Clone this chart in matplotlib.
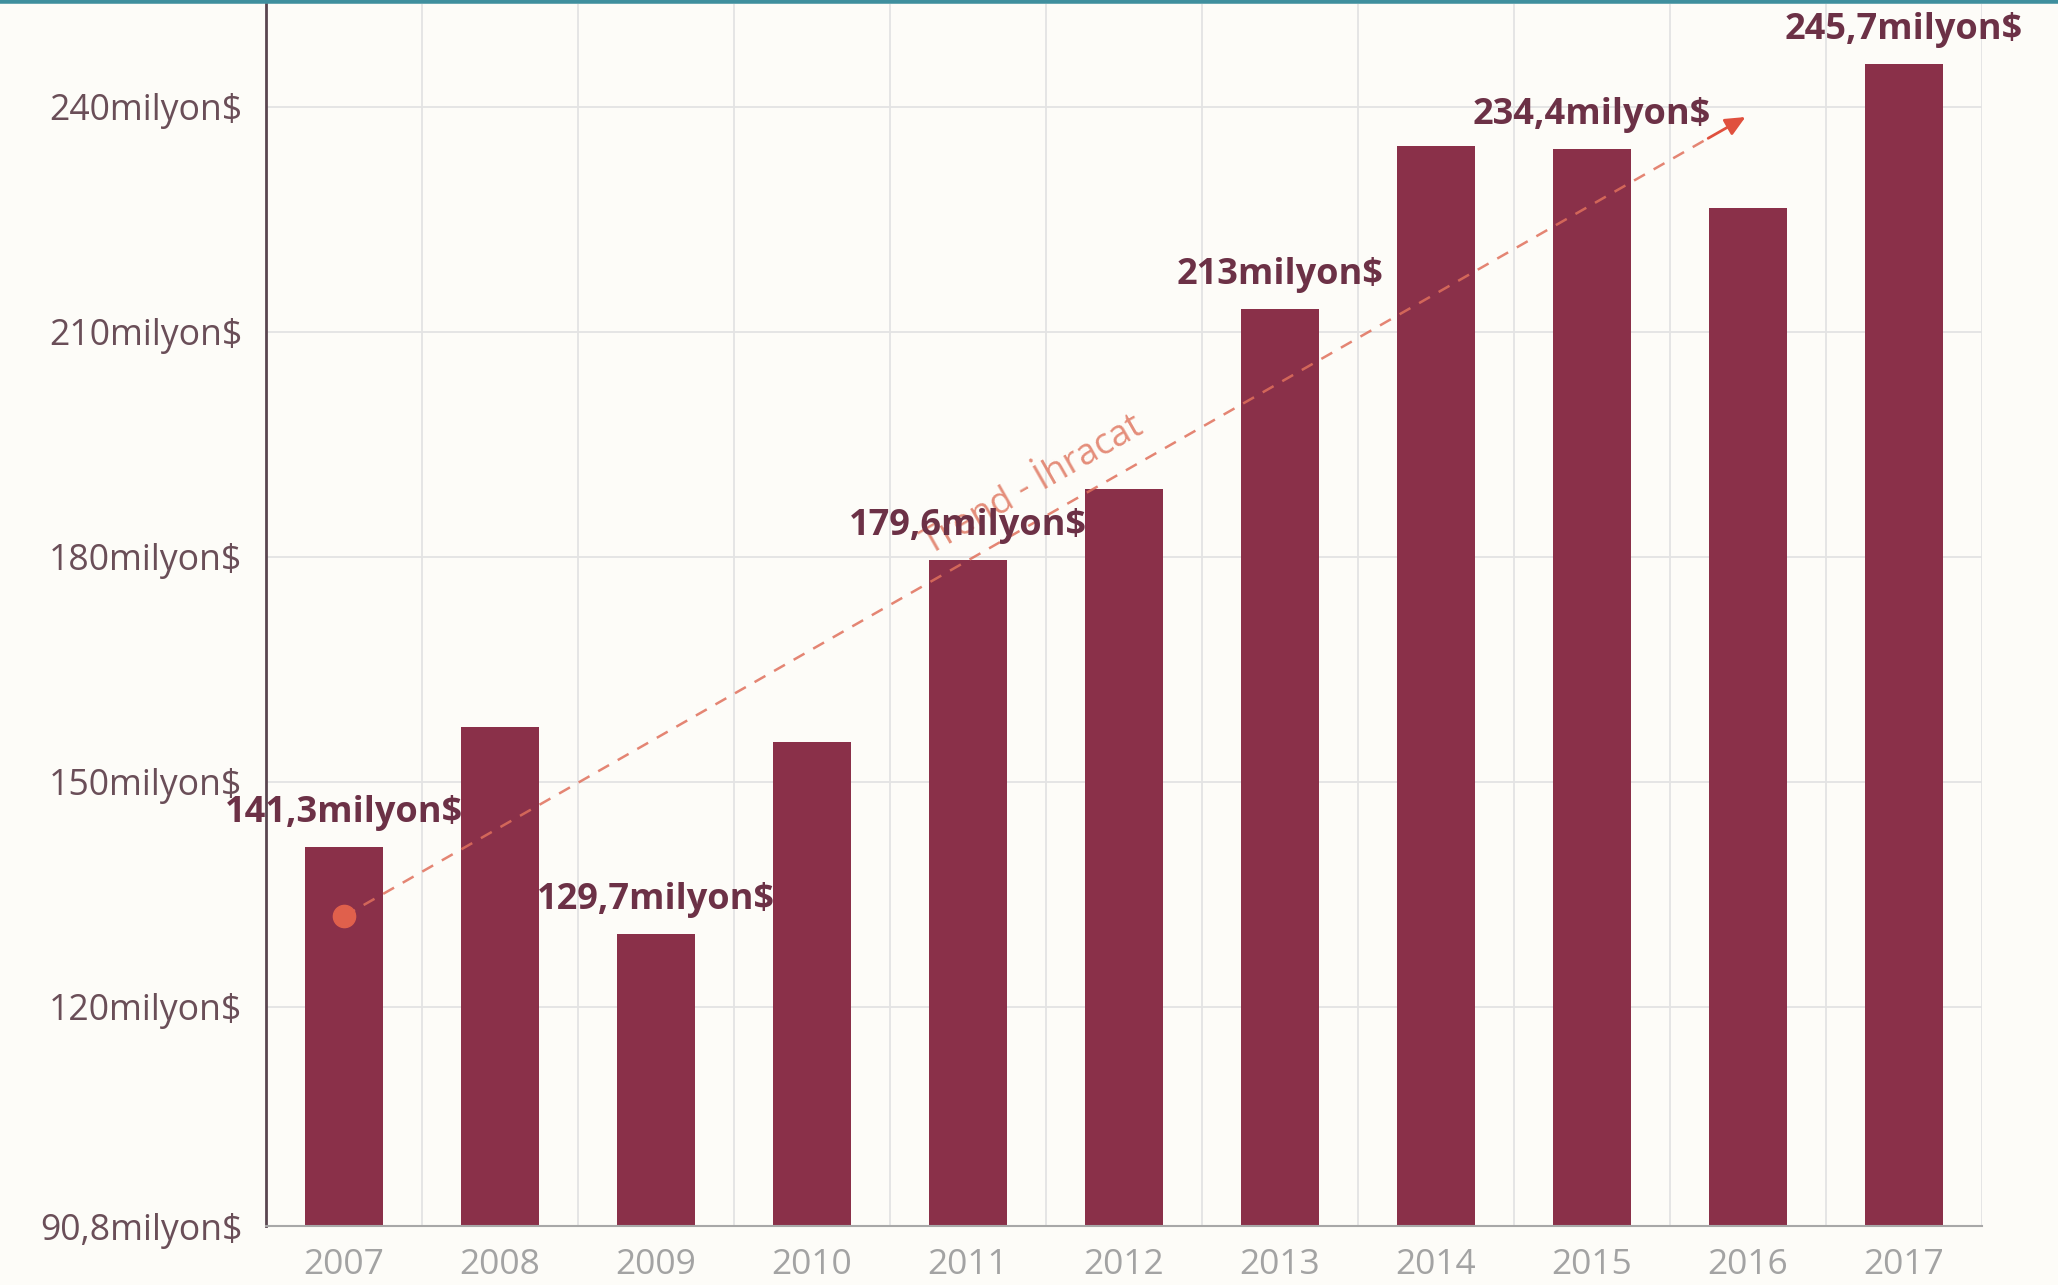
import matplotlib
matplotlib.use("Agg")
import matplotlib.pyplot as plt
from matplotlib.lines import Line2D
import math

years = ["2007", "2008", "2009", "2010", "2011", "2012", "2013", "2014", "2015", "2016", "2017"]
values = [141.3, 157.3, 129.7, 155.3, 179.6, 189.1, 213.0, 234.7, 234.4, 226.5, 245.7]
labels = {0: "141,3milyon$", 2: "129,7milyon$", 4: "179,6milyon$", 6: "213milyon$",
          8: "234,4milyon$", 10: "245,7milyon$"}
ytick_vals = [90.8, 120, 150, 180, 210, 240]
ytick_labels = ["90,8milyon$", "120milyon$", "150milyon$", "180milyon$", "210milyon$", "240milyon$"]
trend_x = [0, 9]
trend_y = [132.1, 238.8]
trend_label = "Trend - İhracat"

plt.rcParams['font.family'] = ['Open Sans', 'DejaVu Sans']

bg = "#fdfcf8"
fig = plt.figure(figsize=(20.58, 12.85), dpi=100, facecolor=bg)
ax = fig.add_axes([0.1293, 0.0459, 0.963 - 0.1293, 0.997 - 0.0459])
ax.set_facecolor(bg)

x = list(range(len(years)))
ax.bar(x, values, width=0.5, color="#8a3049", zorder=2)

ax.set_xlim(-0.5, len(years) - 0.5)
ax.set_ylim(90.8, 253.7)

ax.set_yticks(ytick_vals)
ax.set_yticklabels(ytick_labels, fontsize=25.7, color="#6a4e58")
ax.set_xticks(x)
ax.set_xticklabels(years, fontsize=25.5, color="#a3a3a3")
ax.tick_params(axis='y', length=0, pad=17)
ax.tick_params(axis='x', length=0, pad=16)

# grid
for yv in ytick_vals[1:]:
    ax.axhline(yv, color="#e3e3e3", lw=1.3, zorder=1)
for xv in [i + 0.5 for i in range(len(years))]:
    ax.axvline(xv, color="#e3e3e3", lw=1.3, zorder=1)

for s in ["top", "right"]:
    ax.spines[s].set_visible(False)
ax.spines["left"].set_color("#5a4650")
ax.spines["left"].set_linewidth(2)
ax.spines["bottom"].set_color("#a8a8a8")
ax.spines["bottom"].set_linewidth(1.5)

# value labels
for i, txt in labels.items():
    ax.annotate(txt, (i, values[i]), xytext=(0, 24.5), textcoords="offset points",
                ha="center", va="center", fontsize=26, fontweight="bold",
                color="#6c3146", zorder=5)

# trend line
tc = "#e0705c"
frac = 0.97
ex = trend_x[0] + (trend_x[1] - trend_x[0]) * frac
ey = trend_y[0] + (trend_y[1] - trend_y[0]) * frac
ax.plot([trend_x[0], ex], [trend_y[0], ey], ls=(0, (5, 4)), color=tc, lw=1.8, alpha=0.85, zorder=4)
ax.annotate("", xy=(trend_x[1], trend_y[1]), xytext=(ex, ey),
            arrowprops=dict(arrowstyle="-|>,head_length=1.2,head_width=0.55", color="#e0503e", lw=2),
            zorder=4)
ax.plot([trend_x[0]], [trend_y[0]], "o", color="#e0604c", markersize=16, zorder=4)

# label along the trend line
p0 = ax.transData.transform((trend_x[0], trend_y[0]))
p1 = ax.transData.transform((trend_x[1], trend_y[1]))
ang = math.degrees(math.atan2(p1[1] - p0[1], p1[0] - p0[0]))
ax.text(4.42, 189.5, trend_label, rotation=ang, rotation_mode="anchor", ha="center", va="center",
        fontsize=26, color="#e07a64", alpha=0.85, zorder=4)

# teal frame line on top
fig.add_artist(Line2D([0, 1], [0.999, 0.999], transform=fig.transFigure, color="#3f8f9e", lw=4))

fig.savefig("out.png", dpi=100, facecolor=bg)
